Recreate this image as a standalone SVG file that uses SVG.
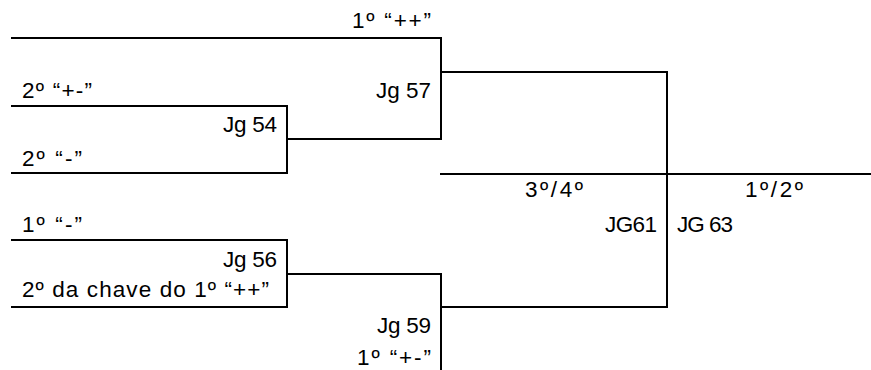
<svg xmlns="http://www.w3.org/2000/svg" width="871" height="370" viewBox="0 0 871 370">
<style>
.c{fill:none;stroke:#000;stroke-width:2;stroke-linecap:square}
text{font-family:"Liberation Sans",Arial,sans-serif;font-size:22.5px;fill:#000}
</style>
<rect width="871" height="370" fill="#fff"/>
<g id="connectors">
<path class="c" d="M12 38 H441 V139 H287"/>
<path class="c" d="M12 106 H287 V173 H12"/>
<path class="c" d="M441 72 H667 V307 H441"/>
<path class="c" d="M441 174 H871"/>
<path class="c" d="M12 240 H287 V307 H12"/>
<path class="c" d="M287 274 H441 V371"/>
</g>
<g id="n-1pp"><text x="352" y="28" textLength="79" lengthAdjust="spacing">1º “++”</text></g>
<g id="jg57"><text x="376" y="98" textLength="55" lengthAdjust="spacing">Jg 57</text></g>
<g id="n-2pm"><text x="22" y="98" textLength="70" lengthAdjust="spacing">2º “+-”</text></g>
<g id="jg54"><text x="223" y="132" textLength="54" lengthAdjust="spacing">Jg 54</text></g>
<g id="n-2m"><text x="22" y="166" textLength="60" lengthAdjust="spacing">2º “-”</text></g>
<g id="n-1m"><text x="22" y="232" textLength="60" lengthAdjust="spacing">1º “-”</text></g>
<g id="jg56"><text x="223" y="267" textLength="54" lengthAdjust="spacing">Jg 56</text></g>
<g id="n-2chave"><text x="22" y="297" textLength="247" lengthAdjust="spacing">2º da chave do 1º “++”</text></g>
<g id="jg59"><text x="377" y="333" textLength="54" lengthAdjust="spacing">Jg 59</text></g>
<g id="n-1pm"><text x="357" y="365" textLength="74" lengthAdjust="spacing">1º “+-”</text></g>
<g id="jg61"><text x="525" y="197" textLength="58" lengthAdjust="spacing">3º/4º</text><text x="605" y="232" textLength="52" lengthAdjust="spacing">JG61</text></g>
<g id="jg63"><text x="745" y="197" textLength="58" lengthAdjust="spacing">1º/2º</text><text x="677" y="232" textLength="56" lengthAdjust="spacing">JG 63</text></g>
</svg>
